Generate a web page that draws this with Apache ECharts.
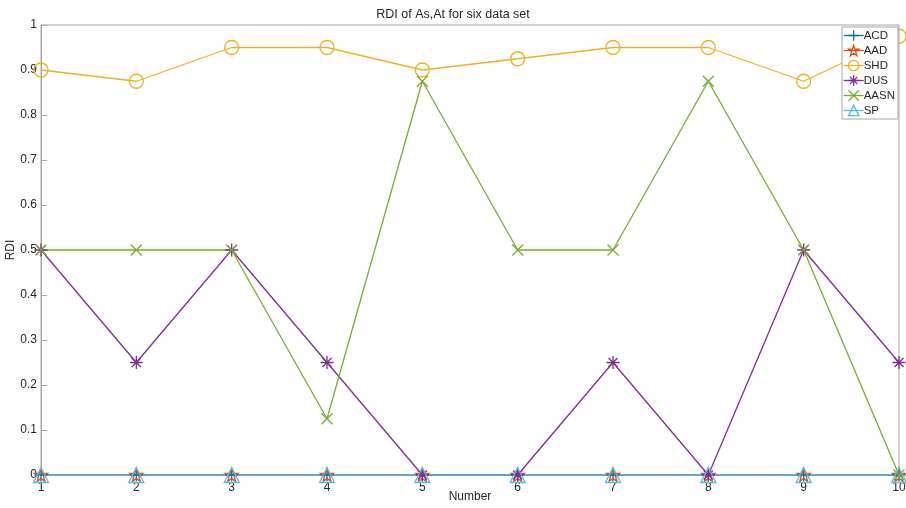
<!DOCTYPE html>
<html>
<head>
<meta charset="utf-8">
<script src="https://cdn.jsdelivr.net/npm/echarts@6/dist/echarts.min.js"></script>
<style>
  html, body { margin: 0; padding: 0; background: #fff; }
  #chart { width: 906px; height: 508px; }
</style>
</head>
<body>
<div id="chart"></div>
<script>
// Data set indices along the x axis
const numbers = [1, 2, 3, 4, 5, 6, 7, 8, 9, 10];

// RDI values per method
const acd  = [0, 0, 0, 0, 0, 0, 0, 0, 0, 0];
const aad  = [0, 0, 0, 0, 0, 0, 0, 0, 0, 0];
const shd  = [0.9, 0.875, 0.95, 0.95, 0.9, 0.925, 0.95, 0.95, 0.875, 0.975];
const dus  = [0.5, 0.25, 0.5, 0.25, 0, 0, 0.25, 0, 0.5, 0.25];
const aasn = [0.5, 0.5, 0.5, 0.125, 0.875, 0.5, 0.5, 0.875, 0.5, 0];
const sp   = [0, 0, 0, 0, 0, 0, 0, 0, 0, 0];

const yTicks = [0, 0.1, 0.2, 0.3, 0.4, 0.5, 0.6, 0.7, 0.8, 0.9, 1];

// Marker shapes (stroke-only paths)
const PLUS = 'path://M5,0L5,10M0,5L10,5';
const CROSS = 'path://M0,0L10,10M10,0L0,10';
const STAR = 'path://M5,0L5,10M0,5L10,5M1.5,1.5L8.5,8.5M8.5,1.5L1.5,8.5';
const PENTA = 'path://M5,0L6.18,3.62L10,3.62L6.91,5.86L8.09,9.5L5,7.25L1.91,9.5L3.09,5.86L0,3.62L3.82,3.62Z';
const TRI = 'path://M5,0L10,8.66L0,8.66Z';
const CIRC = 'circle';

const methods = [
  { name: 'ACD',  data: acd,  color: '#0072BD', symbol: PLUS,  size: 13 },
  { name: 'AAD',  data: aad,  color: '#D95319', symbol: PENTA, size: 13 },
  { name: 'SHD',  data: shd,  color: '#EDB120', symbol: CIRC,  size: 14 },
  { name: 'DUS',  data: dus,  color: '#7E2F8E', symbol: STAR,  size: 13 },
  { name: 'AASN', data: aasn, color: '#77AC30', symbol: CROSS, size: 11 },
  { name: 'SP',   data: sp,   color: '#4DBEEE', symbol: TRI,   size: 15 }
];

const hollow = c => ({ color: 'rgba(0,0,0,0)', borderColor: c, borderWidth: 1.3 });

function mk(m) {
  return {
    name: m.name,
    type: 'line',
    data: m.data.map((v, i) => [numbers[i], v]),
    symbol: m.symbol,
    symbolSize: m.size,
    showAllSymbol: true,
    clip: false,
    lineStyle: { color: m.color, width: 1.3 },
    itemStyle: hollow(m.color),
    emphasis: { disabled: true },
    animation: false
  };
}

const chart = echarts.init(document.getElementById('chart'));
const textColor = '#262626';
const axisColor = '#a6a6a6';
const font = 'Liberation Sans, Arial, Helvetica, sans-serif';

chart.setOption({
  animation: false,
  backgroundColor: '#ffffff',
  title: {
    text: 'RDI of As,At for six data set',
    left: 'center',
    top: 3,
    textStyle: { fontSize: 12.5, fontWeight: 'normal', color: textColor, fontFamily: font }
  },
  legend: {
    orient: 'vertical',
    right: 8,
    top: 27,
    itemWidth: 20,
    itemHeight: 13,
    itemGap: 2,
    padding: [2, 3, 2, 1],
    backgroundColor: '#ffffff',
    borderColor: '#a6a6a6',
    borderWidth: 1,
    textStyle: { fontSize: 11.5, lineHeight: 13, color: textColor, fontFamily: font, padding: [0, 0, 0, -5] },
    data: methods.map(m => ({
      name: m.name,
      itemStyle: hollow(m.color),
      lineStyle: { color: m.color, width: 1.3 }
    })),
    z: 10
  },
  grid: {
    left: 41, right: 7, top: 25, bottom: 33,
    containLabel: false,
    outerBoundsMode: 'none',
    show: true, borderColor: axisColor, borderWidth: 1
  },
  xAxis: {
    type: 'value',
    min: 1, max: 10, interval: 1,
    name: 'Number',
    nameLocation: 'middle',
    nameGap: 16,
    nameMoveOverlap: false,
    nameTextStyle: { fontSize: 12, color: textColor, fontFamily: font },
    axisLine: { show: true, lineStyle: { color: axisColor } },
    axisTick: { show: true, inside: true, length: 6, lineStyle: { color: axisColor } },
    axisLabel: { fontSize: 12, color: textColor, fontFamily: font, margin: 7 },
    splitLine: { show: false }
  },
  yAxis: {
    type: 'value',
    min: 0, max: 1, interval: 0.1,
    name: 'RDI',
    nameLocation: 'middle',
    nameGap: 24,
    nameMoveOverlap: false,
    nameTextStyle: { fontSize: 12, color: textColor, fontFamily: font },
    axisLine: { show: true, lineStyle: { color: axisColor } },
    axisTick: { show: true, inside: true, length: 6, lineStyle: { color: axisColor } },
    axisLabel: {
      fontSize: 12, color: textColor, fontFamily: font, margin: 4,
      formatter: v => {
        const t = yTicks.find(k => Math.abs(k - v) < 1e-9);
        return t === undefined ? '' : String(t);
      }
    },
    splitLine: { show: false }
  },
  series: methods.map(mk)
});
</script>
</body>
</html>
